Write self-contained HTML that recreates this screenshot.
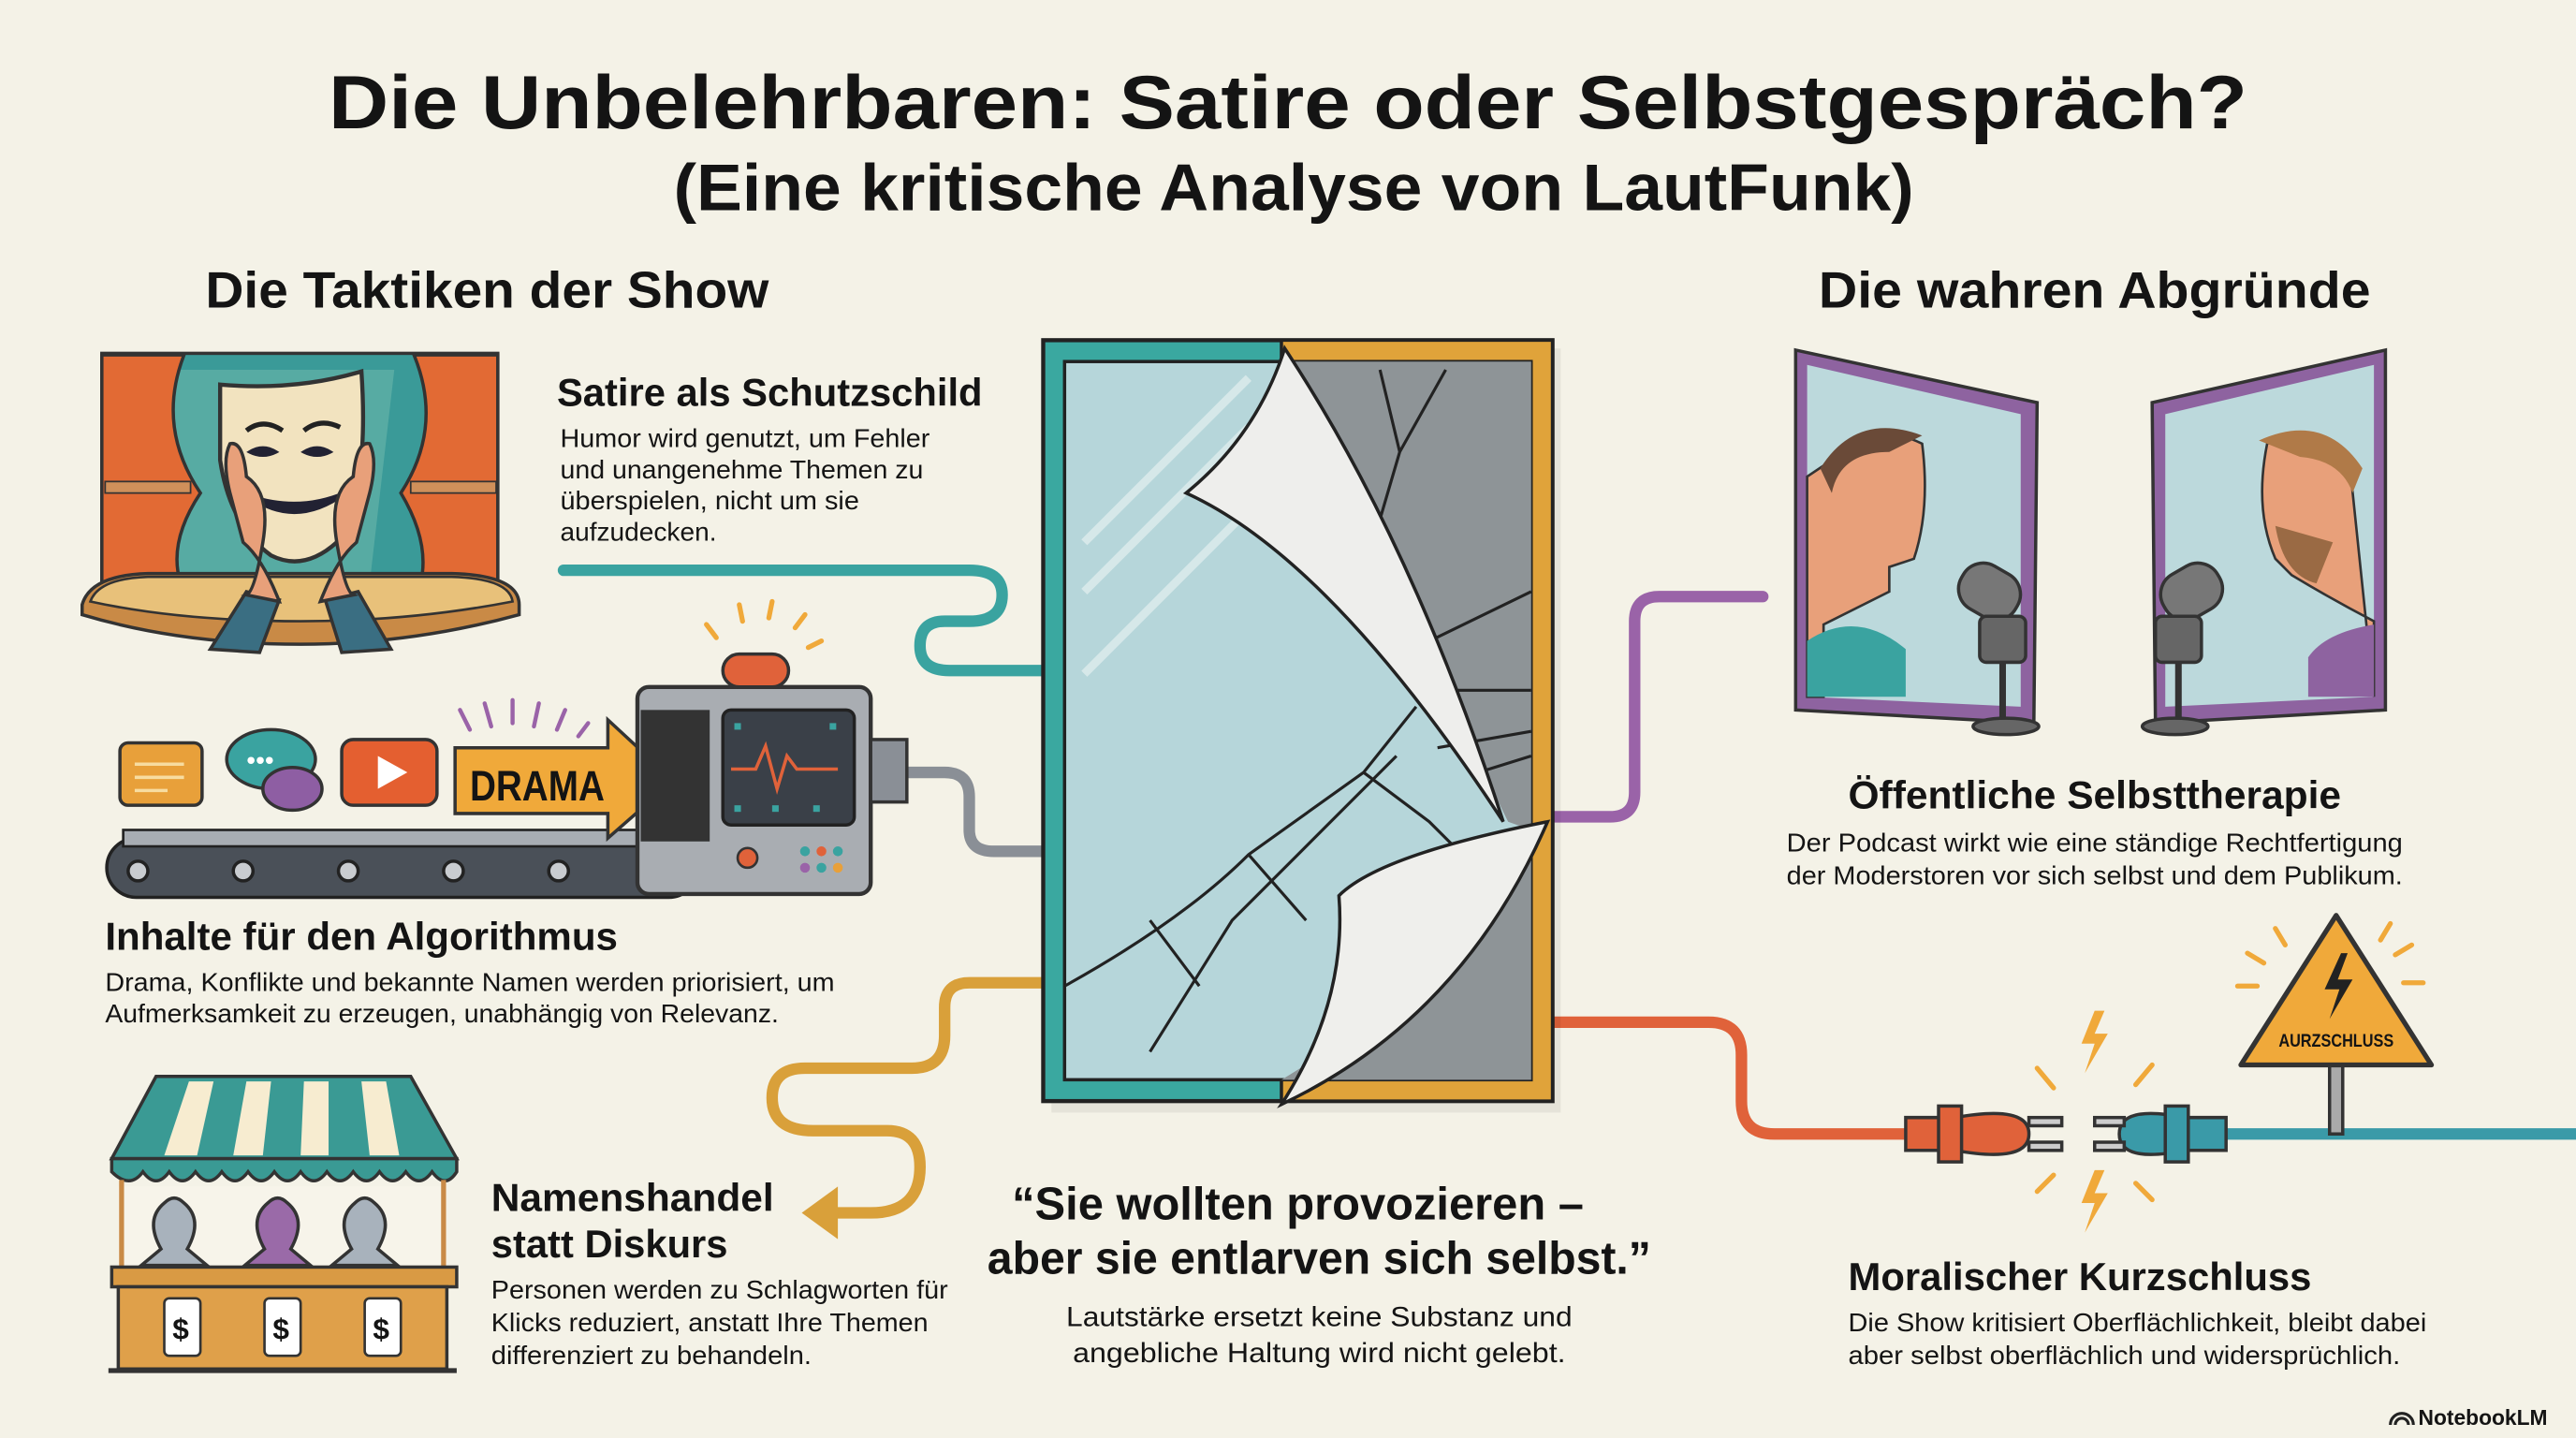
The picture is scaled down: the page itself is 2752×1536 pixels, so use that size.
<!DOCTYPE html>
<html><head><meta charset="utf-8">
<style>
html,body{margin:0;padding:0;background:#f4f2e7;}
svg{display:block}
text{font-family:"Liberation Sans",sans-serif;fill:#141414}
.h{font-weight:bold}
</style></head>
<body>
<svg width="2752" height="1536" viewBox="0 0 1568 875" preserveAspectRatio="none" xmlns="http://www.w3.org/2000/svg">
<rect width="1568" height="875" fill="#f4f2e7"/>

<!-- Titles -->
<text class="h" x="200" y="78" font-size="46" textLength="1168" lengthAdjust="spacingAndGlyphs">Die Unbelehrbaren: Satire oder Selbstgespräch?</text>
<text class="h" x="410" y="128" font-size="40" textLength="755" lengthAdjust="spacingAndGlyphs">(Eine kritische Analyse von LautFunk)</text>
<text class="h" x="125" y="187" font-size="31" textLength="343" lengthAdjust="spacingAndGlyphs">Die Taktiken der Show</text>
<text class="h" x="1107" y="187" font-size="31" textLength="336" lengthAdjust="spacingAndGlyphs">Die wahren Abgründe</text>

<!-- connectors -->
<g fill="none" stroke-width="7" stroke-linecap="round">
<path d="M343 347 H590 Q610 347 610 362 Q610 378 590 378 H575 Q560 378 560 393 Q560 408 578 408 H636" stroke="#3aa3a0"/>
<path d="M530 470 H575 Q590 470 590 485 V505 Q590 518 605 518 H636" stroke="#8a8f96"/>
<path d="M945 497 H980 Q995 497 995 482 V378 Q995 363 1010 363 H1073" stroke="#9a63a8"/>
<path d="M636 598 H590 Q575 598 575 613 V630 Q575 650 555 650 H490 Q470 650 470 668 Q470 688 495 688 H540 Q560 688 560 710 Q560 738 530 738 H505" stroke="#d9a03a"/>
<path d="M945 622 H1040 Q1060 622 1060 642 V670 Q1060 690 1080 690 H1165" stroke="#e0623a"/>
<path d="M1355 690 H1568" stroke="#3a9aa8"/>
</g>
<polygon points="488,738 510,722 510,754" fill="#d9a03a"/>

<!-- Stage -->
<rect x="62" y="215" width="241" height="142" fill="#3a9a98" stroke="#333" stroke-width="2"/>
<polygon points="95,225 240,225 225,355 105,355" fill="#8fcab8" opacity="0.35"/>
<rect x="75" y="220" width="14" height="10" fill="#444" transform="rotate(-20 82 225)"/>
<rect x="270" y="220" width="14" height="10" fill="#444" transform="rotate(20 277 225)"/>
<path d="M62 216 H112 Q95 260 122 300 Q102 330 110 355 H62Z" fill="#e26a34" stroke="#333" stroke-width="2"/>
<path d="M303 216 H252 Q270 260 244 300 Q262 330 256 355 H303Z" fill="#e26a34" stroke="#333" stroke-width="2"/>
<rect x="64" y="293" width="52" height="7" fill="#d0905a" stroke="#333" stroke-width="1"/>
<rect x="250" y="293" width="52" height="7" fill="#d0905a" stroke="#333" stroke-width="1"/>
<path d="M50 368 Q55 350 90 349 H275 Q316 350 316 368 V374 Q250 392 183 392 Q110 392 50 374Z" fill="#c98a46" stroke="#333" stroke-width="2"/>
<path d="M55 366 Q60 352 90 351 H275 Q310 352 312 366 Q250 378 183 378 Q110 378 55 366Z" fill="#e8c17a" stroke="#333" stroke-width="1.5"/>
<path d="M134 234 Q180 238 220 226 Q225 300 205 330 Q185 348 165 338 Q140 320 134 280Z" fill="#f2e3bf" stroke="#333" stroke-width="2.5"/>
<path d="M150 262 q10 -8 22 0 M185 262 q10 -8 22 -2" stroke="#222" stroke-width="3" fill="none"/>
<path d="M152 275 q8 -5 16 0 q-8 4 -16 0z M185 275 q8 -5 16 0 q-8 4 -16 0z" fill="#223" stroke="#223" stroke-width="2"/>
<path d="M152 302 Q180 322 210 300 Q182 312 152 302Z" fill="#223" stroke="#223" stroke-width="2.5"/>
<path d="M128 395 L150 360 L170 365 L158 397Z M238 395 L218 360 L198 365 L208 397Z" fill="#3a6e82" stroke="#333" stroke-width="2"/>
<path d="M140 300 Q135 280 140 270 Q148 268 150 290 Q165 300 160 330 Q155 360 150 362 L170 366 Q160 340 148 330Z" fill="#e8a07a" stroke="#333" stroke-width="2"/>
<path d="M225 300 Q230 280 225 270 Q217 268 215 290 Q200 300 205 330 Q210 360 215 362 L195 366 Q205 340 217 330Z" fill="#e8a07a" stroke="#333" stroke-width="2"/>

<text class="h" x="339" y="247" font-size="24" textLength="259" lengthAdjust="spacingAndGlyphs">Satire als Schutzschild</text>
<g font-size="16">
<text x="341" y="272" textLength="225" lengthAdjust="spacingAndGlyphs">Humor wird genutzt, um Fehler</text>
<text x="341" y="291" textLength="221" lengthAdjust="spacingAndGlyphs">und unangenehme Themen zu</text>
<text x="341" y="310" textLength="182" lengthAdjust="spacingAndGlyphs">überspielen, nicht um sie</text>
<text x="341" y="329">aufzudecken.</text>
</g>

<!-- Conveyor & machine -->
<rect x="65" y="510" width="360" height="36" rx="18" fill="#4a5058" stroke="#222" stroke-width="2"/>
<rect x="75" y="505" width="340" height="10" fill="#a8adb3" stroke="#222" stroke-width="1.5"/>
<g fill="#c9ccd0" stroke="#222" stroke-width="2">
<circle cx="84" cy="530" r="6"/><circle cx="148" cy="530" r="6"/><circle cx="212" cy="530" r="6"/><circle cx="276" cy="530" r="6"/><circle cx="340" cy="530" r="6"/><circle cx="404" cy="530" r="6"/>
</g>
<rect x="73" y="452" width="50" height="38" rx="5" fill="#e8a03a" stroke="#333" stroke-width="2"/>
<path d="M82 465h30M82 473h30M82 481h20" stroke="#f7dca0" stroke-width="2"/>
<ellipse cx="165" cy="462" rx="27" ry="18" fill="#3aa3a0" stroke="#333" stroke-width="2"/>
<ellipse cx="178" cy="480" rx="18" ry="13" fill="#8e5ea3" stroke="#333" stroke-width="2"/>
<text x="150" y="468" font-size="16" style="fill:#fff">•••</text>
<rect x="208" y="450" width="58" height="40" rx="7" fill="#e45f30" stroke="#333" stroke-width="2"/>
<polygon points="230,460 230,480 248,470" fill="#fff"/>
<polygon points="277,455 370,455 370,438 410,475 370,510 370,495 277,495" fill="#f0a93a" stroke="#333" stroke-width="2"/>
<text class="h" x="286" y="487" font-size="26" textLength="82" lengthAdjust="spacingAndGlyphs">DRAMA</text>
<rect x="388" y="418" width="142" height="126" rx="7" fill="#a9adb2" stroke="#333" stroke-width="2.5"/>
<rect x="390" y="432" width="42" height="80" fill="#333"/>
<rect x="440" y="432" width="80" height="70" rx="5" fill="#3a4048" stroke="#222" stroke-width="2"/>
<path d="M445 468 h15 l6 -14 l7 26 l6 -20 l6 8 h25" stroke="#e0623a" stroke-width="2" fill="none"/>
<g fill="#3aa3a0"><rect x="447" y="440" width="4" height="4"/><rect x="505" y="440" width="4" height="4"/><rect x="447" y="490" width="4" height="4"/><rect x="470" y="490" width="4" height="4"/><rect x="495" y="490" width="4" height="4"/></g>
<circle cx="455" cy="522" r="6" fill="#e0623a" stroke="#333" stroke-width="1.5"/>
<g fill="#3aa3a0"><circle cx="490" cy="518" r="3"/><circle cx="500" cy="518" r="3" fill="#e0623a"/><circle cx="510" cy="518" r="3"/><circle cx="490" cy="528" r="3" fill="#9a63a8"/><circle cx="500" cy="528" r="3"/><circle cx="510" cy="528" r="3" fill="#e8a03a"/></g>
<rect x="440" y="398" width="40" height="20" rx="10" fill="#e0623a" stroke="#333" stroke-width="2"/>
<rect x="530" y="450" width="22" height="38" fill="#8a8f96" stroke="#333" stroke-width="2"/>

<text class="h" x="64" y="578" font-size="24" textLength="312" lengthAdjust="spacingAndGlyphs">Inhalte für den Algorithmus</text>
<g font-size="16">
<text x="64" y="603" textLength="444" lengthAdjust="spacingAndGlyphs">Drama, Konflikte und bekannte Namen werden priorisiert, um</text>
<text x="64" y="622" textLength="410" lengthAdjust="spacingAndGlyphs">Aufmerksamkeit zu erzeugen, unabhängig von Relevanz.</text>
</g>

<!-- Market stall -->
<polygon points="95,655 250,655 278,705 68,705" fill="#3a9a94" stroke="#333" stroke-width="2"/>
<g fill="#f7ecd0"><polygon points="115,658 130,658 120,703 100,703"/><polygon points="150,658 165,658 160,703 142,703"/><polygon points="185,658 200,658 200,703 183,703"/><polygon points="220,658 235,658 243,703 225,703"/></g>
<path d="M68 705 H278 V713 Q271 724 263 713 Q255 724 247 713 Q239 724 231 713 Q223 724 215 713 Q207 724 199 713 Q191 724 183 713 Q175 724 167 713 Q159 724 151 713 Q143 724 135 713 Q127 724 119 713 Q111 724 103 713 Q95 724 87 713 Q79 724 68 713Z" fill="#3a9a94" stroke="#333" stroke-width="2"/>
<rect x="72" y="722" width="200" height="50" fill="#f7f4ea"/>
<line x1="74" y1="718" x2="74" y2="771" stroke="#c98a46" stroke-width="3"/>
<line x1="270" y1="718" x2="270" y2="771" stroke="#c98a46" stroke-width="3"/>
<g stroke="#333" stroke-width="2"><path d="M100 732 q-12 10 -2 28 l-12 10 h40 l-12 -10 q10 -18 -2 -28 q-6 -6 -12 0z" fill="#a8b2bc"/><path d="M163 732 q-12 10 -2 28 l-12 10 h40 l-12 -10 q10 -18 -2 -28 q-6 -6 -12 0z" fill="#9a6aa8"/><path d="M216 732 q-12 10 -2 28 l-12 10 h40 l-12 -10 q10 -18 -2 -28 q-6 -6 -12 0z" fill="#a8b2bc"/></g>
<rect x="68" y="771" width="210" height="12" fill="#d99a44" stroke="#333" stroke-width="2"/>
<rect x="72" y="783" width="200" height="50" fill="#dfa04a" stroke="#333" stroke-width="2"/>
<line x1="66" y1="834" x2="278" y2="834" stroke="#333" stroke-width="3"/>
<g fill="#fff" stroke="#333" stroke-width="1.5"><rect x="100" y="790" width="22" height="35" rx="3"/><rect x="161" y="790" width="22" height="35" rx="3"/><rect x="222" y="790" width="22" height="35" rx="3"/></g>
<text class="h" x="105" y="815" font-size="18">$</text><text class="h" x="166" y="815" font-size="18">$</text><text class="h" x="227" y="815" font-size="18">$</text>

<text class="h" x="299" y="737" font-size="24" textLength="172" lengthAdjust="spacingAndGlyphs">Namenshandel</text>
<text class="h" x="299" y="765" font-size="24" textLength="144" lengthAdjust="spacingAndGlyphs">statt Diskurs</text>
<g font-size="16">
<text x="299" y="790" textLength="278" lengthAdjust="spacingAndGlyphs">Personen werden zu Schlagworten für</text>
<text x="299" y="810" textLength="266" lengthAdjust="spacingAndGlyphs">Klicks reduziert, anstatt Ihre Themen</text>
<text x="299" y="830" textLength="195" lengthAdjust="spacingAndGlyphs">differenziert zu behandeln.</text>
</g>

<!-- Central mirror -->
<rect x="640" y="212" width="310" height="465" fill="#000" opacity="0.06"/>
<rect x="635" y="207" width="310" height="463" fill="#3aa8a0" stroke="#222" stroke-width="2.5"/>
<path d="M780 207 H945 V670 H780Z" fill="#e0a33a" stroke="#222" stroke-width="2"/>
<rect x="648" y="220" width="284" height="437" fill="#b6d6da" stroke="#222" stroke-width="2"/>
<path d="M780 220 H932 V657 H780 Q860 610 932 505 L918 500Z" fill="#8e9497"/>
<path d="M660 330 L760 230 M660 360 L760 260 M660 410 L770 300" stroke="#e4f0f0" stroke-width="5" opacity="0.7"/>
<g stroke="#222" stroke-width="1.8" fill="none">
<path d="M648 600 Q720 560 760 520 L830 470 L862 430 M700 640 L750 560 L790 520 L850 460 M760 520 L795 560 M830 470 L870 500 L900 530 M700 560 L730 600"/>
<path d="M840 225 L852 275 L880 225 M852 275 L830 350 L860 395 M860 395 L932 360 M870 420 L932 420 M875 455 L932 445 M900 470 L932 460"/>
</g>
<path d="M782 212 Q765 265 722 300 Q810 340 915 500 Q860 330 782 212Z" fill="#eeeeec" stroke="#222" stroke-width="2"/>
<path d="M815 545 Q840 520 942 500 Q890 620 780 672 Q820 610 815 545Z" fill="#efefec" stroke="#222" stroke-width="2"/>

<!-- Quote -->
<text class="h" x="790" y="742" font-size="28" text-anchor="middle" textLength="348" lengthAdjust="spacingAndGlyphs">“Sie wollten provozieren –</text>
<text class="h" x="803" y="775" font-size="28" text-anchor="middle" textLength="404" lengthAdjust="spacingAndGlyphs">aber sie entlarven sich selbst.”</text>
<text x="803" y="807" font-size="17" text-anchor="middle" textLength="308" lengthAdjust="spacingAndGlyphs">Lautstärke ersetzt keine Substanz und</text>
<text x="803" y="829" font-size="17" text-anchor="middle" textLength="300" lengthAdjust="spacingAndGlyphs">angebliche Haltung wird nicht gelebt.</text>

<!-- Right mirrors -->
<polygon points="1093,213 1240,245 1238,440 1093,432" fill="#8e63a0" stroke="#333" stroke-width="2"/>
<polygon points="1100,222 1230,252 1230,430 1100,424" fill="#bcd9dc"/>
<polygon points="1452,213 1310,245 1312,440 1452,432" fill="#8e63a0" stroke="#333" stroke-width="2"/>
<polygon points="1445,222 1318,252 1318,430 1445,424" fill="#bcd9dc"/>
<path d="M1115 280 Q1140 255 1170 270 Q1175 310 1165 340 L1150 345 L1150 360 Q1130 370 1110 380 V424 H1100 V290Z" fill="#e8a07a" stroke="#333" stroke-width="1.5"/>
<path d="M1108 285 Q1130 250 1170 265 L1150 275 Q1120 275 1115 300Z" fill="#6a4a38"/>
<path d="M1100 390 Q1130 370 1160 395 V424 H1100Z" fill="#3aa3a0"/>
<path d="M1430 280 Q1410 255 1380 270 Q1372 310 1385 340 L1395 350 Q1420 365 1445 378 V424 H1445Z" fill="#e8a07a" stroke="#333" stroke-width="1.5"/>
<path d="M1385 320 Q1390 350 1410 355 L1420 330Z" fill="#9a6a44"/>
<path d="M1438 285 Q1415 250 1375 268 L1400 278 Q1425 280 1432 300Z" fill="#b07a48"/>
<path d="M1445 380 Q1415 385 1405 400 V424 H1445Z" fill="#8e63a0"/>
<g stroke="#333" stroke-width="2">
<rect x="1192" y="345" width="38" height="30" rx="14" fill="#777" transform="rotate(30 1211 360)"/>
<rect x="1205" y="375" width="28" height="28" rx="4" fill="#666"/>
<line x1="1219" y1="403" x2="1219" y2="440" stroke-width="4"/>
<ellipse cx="1221" cy="442" rx="20" ry="5" fill="#666"/>
<rect x="1315" y="345" width="38" height="30" rx="14" fill="#777" transform="rotate(-30 1334 360)"/>
<rect x="1312" y="375" width="28" height="28" rx="4" fill="#666"/>
<line x1="1326" y1="403" x2="1326" y2="440" stroke-width="4"/>
<ellipse cx="1324" cy="442" rx="20" ry="5" fill="#666"/>
</g>

<text class="h" x="1275" y="492" font-size="24" text-anchor="middle" textLength="300" lengthAdjust="spacingAndGlyphs">Öffentliche Selbsttherapie</text>
<text x="1275" y="518" font-size="16" text-anchor="middle" textLength="375" lengthAdjust="spacingAndGlyphs">Der Podcast wirkt wie eine ständige Rechtfertigung</text>
<text x="1275" y="538" font-size="16" text-anchor="middle" textLength="375" lengthAdjust="spacingAndGlyphs">der Moderstoren vor sich selbst und dem Publikum.</text>

<!-- plugs & warning -->
<g stroke="#333" stroke-width="2">
<path d="M1160 680 H1190 Q1235 672 1235 690 Q1235 708 1190 700 H1160Z" fill="#e0623a"/>
<rect x="1180" y="673" width="14" height="34" fill="#e0623a"/>
<rect x="1235" y="680" width="20" height="5" fill="#ccc"/><rect x="1235" y="695" width="20" height="5" fill="#ccc"/>
<path d="M1355 680 H1330 Q1290 672 1290 690 Q1290 708 1330 700 H1355Z" fill="#3a9aa8"/>
<rect x="1318" y="673" width="14" height="34" fill="#3a9aa8"/>
<rect x="1275" y="680" width="18" height="5" fill="#ccc"/><rect x="1275" y="695" width="18" height="5" fill="#ccc"/>
<rect x="1418" y="645" width="8" height="45" fill="#aaa"/>
<path d="M1422 557 L1480 648 H1364Z" fill="#f0a93a" stroke-width="3" stroke-linejoin="round"/>
</g>
<path d="M1425 580 l-10 22 h9 l-6 18 l14 -24 h-9 l6 -16z" fill="#222"/>
<text class="h" x="1387" y="637" font-size="11" textLength="70" lengthAdjust="spacingAndGlyphs">AURZSCHLUSS</text>
<g fill="#f0a93a"><path d="M1275 615 l-8 20 h8 l-6 18 l14 -24 h-8 l6 -14z"/><path d="M1275 712 l-8 20 h8 l-6 18 l14 -24 h-8 l6 -14z"/></g>
<g stroke="#f0a93a" stroke-width="3" stroke-linecap="round"><path d="M1368 580 l10 6 M1362 600 h12 M1385 565 l6 10 M1468 575 l-10 6 M1475 598 h-12 M1455 562 l-6 10 M1240 650 l10 12 M1310 648 l-10 12 M1240 725 l10 -10 M1310 730 l-10 -10"/></g>
<g stroke="#f0a93a" stroke-width="3" stroke-linecap="round"><path d="M430 380 l6 8 M450 368 l2 10 M470 366 l-2 10 M490 374 l-6 8 M500 390 l-8 4"/></g>
<g stroke="#9a63a8" stroke-width="2.5" stroke-linecap="round"><path d="M280 432 l6 12 M295 428 l4 14 M312 426 v14 M328 428 l-3 14 M344 432 l-5 12 M358 440 l-6 8"/></g>

<text class="h" x="1125" y="785" font-size="24" textLength="282" lengthAdjust="spacingAndGlyphs">Moralischer Kurzschluss</text>
<text x="1125" y="810" font-size="16" textLength="352" lengthAdjust="spacingAndGlyphs">Die Show kritisiert Oberflächlichkeit, bleibt dabei</text>
<text x="1125" y="830" font-size="16" textLength="336" lengthAdjust="spacingAndGlyphs">aber selbst oberflächlich und widersprüchlich.</text>

<text class="h" x="1472" y="867" font-size="13">NotebookLM</text>
<path d="M1455 867 a7 7 0 0 1 14 0 M1458 867 a4 4 0 0 1 8 0" stroke="#222" stroke-width="1.8" fill="none"/>
</svg>
</body></html>
